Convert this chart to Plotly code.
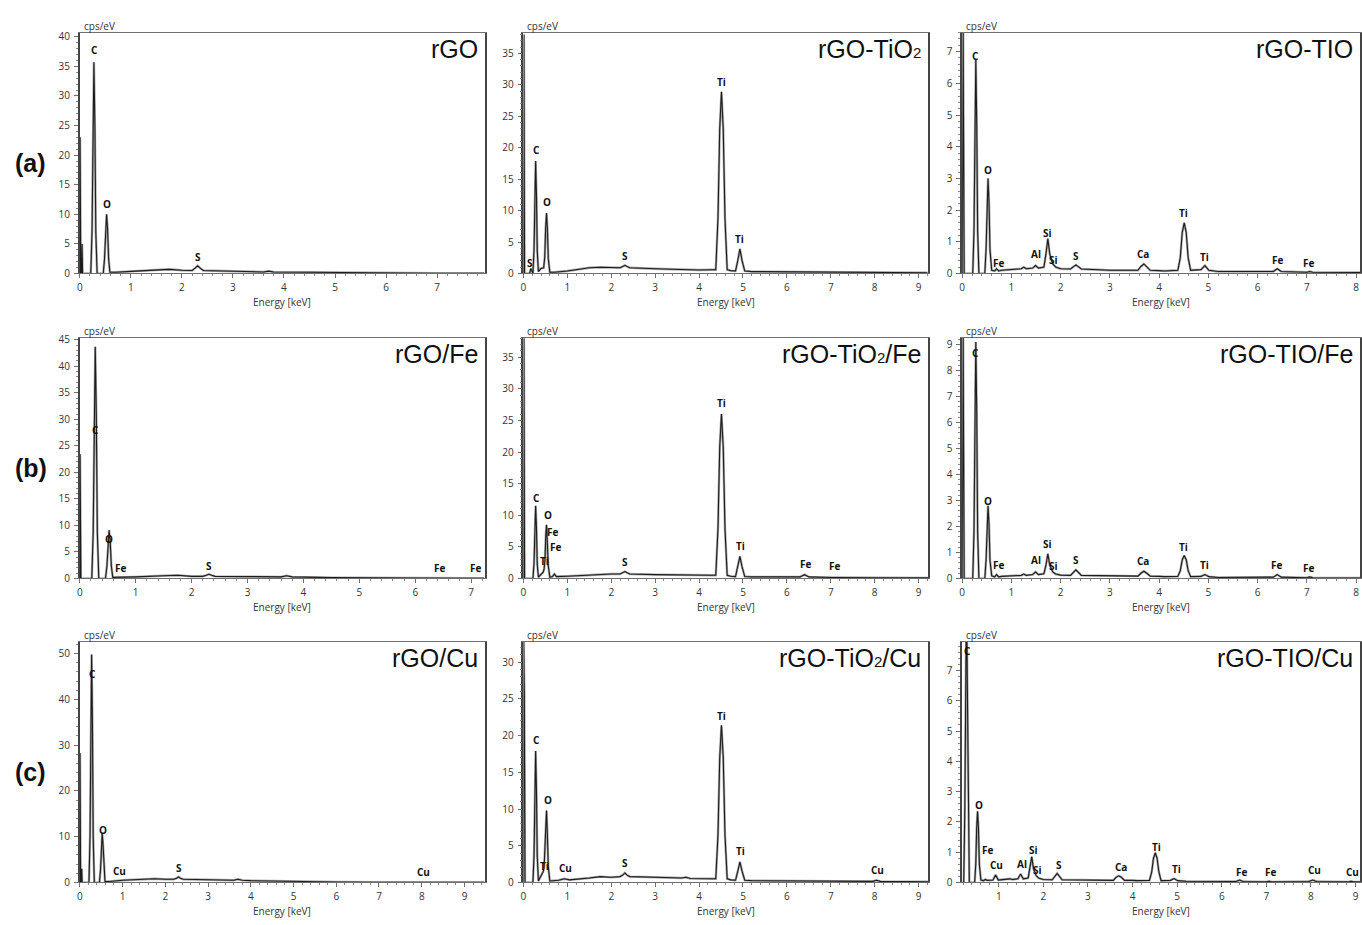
import plotly.graph_objects as go

# ---------------- data ----------------
# Row (a)
E_a1 = [0, 0.005, 0.02, 0.035, 0.045, 0.055, 0.08, 0.2, 0.215, 0.24, 0.258, 0.277, 0.296, 0.314, 0.34,
        0.46, 0.485, 0.505, 0.525, 0.545, 0.565, 0.59, 0.7, 1.0, 1.5, 1.75, 2.0, 2.2, 2.26, 2.31, 2.36, 2.42,
        2.6, 3.0, 3.6, 3.7, 3.8, 4.5, 5.0, 6.0, 7.0, 7.93]
I_a1 = [0, 23, 0, 0, 5, 0, 0, 0, 0, 7, 25, 35.7, 25, 7, 0,
        0, 2.5, 7.5, 10, 7.5, 2.5, 0.2, 0.2, 0.35, 0.55, 0.7, 0.55, 0.5, 0.9, 1.3, 0.9, 0.5,
        0.45, 0.35, 0.25, 0.4, 0.25, 0.2, 0.15, 0.1, 0.05, 0.05]

E_a2 = [0, 0.01, 0.025, 0.05, 0.14, 0.17, 0.2, 0.215, 0.24, 0.258, 0.277, 0.296, 0.314, 0.34, 0.4,
        0.46, 0.485, 0.505, 0.525, 0.545, 0.565, 0.6, 0.7, 1.0, 1.25, 1.5, 1.75, 2.0, 2.2, 2.26, 2.31, 2.36, 2.42,
        3.0, 3.5, 3.7, 4.0, 4.3, 4.38, 4.43, 4.47, 4.51, 4.55, 4.59, 4.64, 4.72, 4.83, 4.88, 4.93, 4.98, 5.04,
        5.2, 6.0, 7.0, 8.0, 9.2]
I_a2 = [0, 38, 0, 0, 0, 0.8, 0, 0, 3.6, 12.5, 17.9, 12.5, 3.6, 0.3, 0.8,
        0.9, 2.6, 7.2, 9.6, 7.2, 2.4, 0.2, 0.2, 0.4, 0.7, 0.9, 1.0, 0.9, 0.9, 1.1, 1.3, 1.1, 0.9,
        0.75, 0.65, 0.6, 0.55, 0.6, 0.6, 8.7, 23, 28.9, 23, 8.7, 0.6, 0.45, 0.4, 2.0, 3.9, 2.0, 0.4,
        0.3, 0.25, 0.2, 0.15, 0.12]

E_a3 = [0, 0.02, 0.04, 0.06, 0.2, 0.215, 0.24, 0.258, 0.277, 0.296, 0.314, 0.34,
        0.46, 0.485, 0.505, 0.525, 0.545, 0.565, 0.6, 0.66, 0.7, 0.74, 0.8, 1.0, 1.2, 1.25, 1.3,
        1.43, 1.49, 1.55, 1.66, 1.7, 1.74, 1.78, 1.84, 1.9, 2.0, 2.2, 2.31, 2.42,
        3.0, 3.57, 3.63, 3.69, 3.75, 3.82, 4.0, 4.1, 4.38, 4.43, 4.47, 4.51, 4.55, 4.59, 4.64,
        4.85, 4.93, 5.01, 5.2, 6.0, 6.32, 6.4, 6.48, 7.0, 7.06, 7.12, 8.08]
I_a3 = [0, 7.6, 0, 0, 0, 0, 1.35, 4.7, 6.75, 4.7, 1.35, 0,
        0, 0.75, 2.25, 3.0, 2.25, 0.75, 0.1, 0.08, 0.15, 0.08, 0.1, 0.12, 0.15, 0.2, 0.15,
        0.17, 0.25, 0.17, 0.2, 0.6, 1.1, 0.6, 0.3, 0.2, 0.15, 0.14, 0.27, 0.14,
        0.1, 0.1, 0.22, 0.3, 0.22, 0.1, 0.09, 0.08, 0.1, 0.5, 1.3, 1.6, 1.3, 0.5, 0.1,
        0.12, 0.25, 0.1, 0.06, 0.05, 0.06, 0.15, 0.06, 0.04, 0.06, 0.04, 0.03]

# Row (b)
E_b1 = [0, 0.005, 0.02, 0.2, 0.215, 0.24, 0.258, 0.277, 0.296, 0.314, 0.34,
        0.46, 0.485, 0.505, 0.525, 0.545, 0.565, 0.59, 0.7, 1.0, 1.5, 1.75, 2.0,
        2.2, 2.26, 2.31, 2.36, 2.42, 3.0, 3.6, 3.7, 3.8, 4.5, 5.0, 6.0, 7.24]
I_b1 = [0, 23.4, 0, 0, 0, 8.7, 30.6, 43.7, 30.6, 8.7, 0,
        0, 2.3, 6.8, 9.1, 6.8, 2.3, 0.2, 0.2, 0.3, 0.5, 0.6, 0.4,
        0.4, 0.6, 0.8, 0.6, 0.4, 0.35, 0.3, 0.5, 0.3, 0.15, 0.1, 0.08, 0.05]

E_b2 = [0, 0.01, 0.025, 0.2, 0.215, 0.24, 0.258, 0.277, 0.296, 0.314, 0.34,
        0.4, 0.45, 0.47, 0.49, 0.51, 0.525, 0.545, 0.565, 0.6, 0.66, 0.705, 0.75, 1.0, 1.5, 2.0,
        2.2, 2.26, 2.31, 2.36, 2.42, 3.0, 3.6, 3.7, 3.8, 4.3,
        4.38, 4.43, 4.47, 4.51, 4.55, 4.59, 4.64, 4.72, 4.83, 4.88, 4.93, 4.98, 5.04,
        5.2, 6.0, 6.3, 6.4, 6.5, 7.0, 7.06, 7.12, 8.0, 9.22]
I_b2 = [0, 38, 0, 0, 0, 2.3, 8, 11.5, 8, 2.3, 0.2,
        0.6, 1.0, 1.5, 3, 7, 8.5, 5.5, 2, 0.2, 0.3, 0.7, 0.3, 0.35, 0.55, 0.7,
        0.7, 0.9, 1.1, 0.9, 0.7, 0.6, 0.5, 0.6, 0.5, 0.5,
        0.5, 7.8, 20.8, 26, 20.8, 7.8, 0.5, 0.35, 0.3, 1.8, 3.5, 1.8, 0.3,
        0.25, 0.2, 0.25, 0.6, 0.25, 0.15, 0.2, 0.15, 0.12, 0.1]

E_b3 = list(E_a3)
I_b3 = [0, 9.27, 0, 0, 0, 0, 1.8, 6.4, 9.1, 6.4, 1.8, 0,
        0, 0.7, 2.1, 2.8, 2.1, 0.7, 0.1, 0.06, 0.15, 0.06, 0.08, 0.1, 0.12, 0.17, 0.12,
        0.15, 0.25, 0.15, 0.18, 0.5, 0.95, 0.5, 0.25, 0.17, 0.13, 0.12, 0.33, 0.12,
        0.1, 0.09, 0.2, 0.28, 0.2, 0.09, 0.08, 0.07, 0.08, 0.3, 0.72, 0.88, 0.72, 0.3, 0.07,
        0.08, 0.15, 0.07, 0.04, 0.04, 0.05, 0.15, 0.05, 0.03, 0.06, 0.03, 0.02]

# Row (c)
E_c1 = [0, 0.005, 0.02, 0.035, 0.045, 0.055, 0.2, 0.215, 0.24, 0.258, 0.277, 0.296, 0.314, 0.34,
        0.46, 0.485, 0.505, 0.525, 0.545, 0.565, 0.59, 0.7, 0.93, 1.0, 1.5, 1.75, 2.0,
        2.2, 2.26, 2.31, 2.36, 2.42, 3.0, 3.6, 3.7, 3.8, 4.0, 5.0, 6.0, 7.0, 7.98, 8.04, 8.1, 9.47]
I_c1 = [0, 28.3, 0, 0, 3, 0, 0, 0, 10, 35, 49.8, 35, 10, 0,
        0, 2.7, 8.1, 10.8, 8.1, 2.7, 0.2, 0.2, 0.5, 0.5, 0.7, 0.8, 0.7,
        0.7, 0.9, 1.2, 0.9, 0.7, 0.6, 0.5, 0.7, 0.5, 0.4, 0.2, 0.1, 0.06, 0.05, 0.2, 0.05, 0.03]

E_c2 = [0, 0.005, 0.012, 0.02, 0.035, 0.2, 0.215, 0.24, 0.258, 0.277, 0.296, 0.314, 0.34,
        0.4, 0.45, 0.47, 0.49, 0.51, 0.525, 0.545, 0.565, 0.6, 0.8, 0.93, 1.05, 1.5, 1.75, 2.0,
        2.2, 2.26, 2.31, 2.36, 2.42, 3.0, 3.6, 3.7, 3.8, 4.3,
        4.38, 4.43, 4.47, 4.51, 4.55, 4.59, 4.64, 4.72, 4.83, 4.88, 4.93, 4.98, 5.04,
        5.2, 6.0, 7.0, 7.95, 8.04, 8.13, 9.22]
I_c2 = [0, 32.8, 0, 25.5, 0, 0, 0, 3.6, 12.5, 17.9, 12.5, 3.6, 0.2,
        0.8, 1.5, 2.0, 5, 8.5, 9.8, 6.5, 2.2, 0.2, 0.3, 0.5, 0.35, 0.6, 0.8, 0.7,
        0.8, 1.0, 1.3, 1.0, 0.8, 0.7, 0.6, 0.7, 0.55, 0.5,
        0.5, 6.4, 17, 21.4, 17, 6.4, 0.5, 0.35, 0.3, 1.5, 2.8, 1.5, 0.3,
        0.25, 0.2, 0.15, 0.15, 0.3, 0.15, 0.1]

E_c3 = [0.18, 0.215, 0.24, 0.258, 0.277, 0.296, 0.314, 0.34,
        0.46, 0.485, 0.505, 0.525, 0.545, 0.565, 0.6, 0.66, 0.7, 0.74, 0.87, 0.93, 0.99,
        1.2, 1.25, 1.3, 1.43, 1.49, 1.55, 1.66, 1.7, 1.74, 1.78, 1.84, 1.9, 2.0, 2.2, 2.31, 2.42,
        3.0, 3.57, 3.63, 3.69, 3.75, 3.82, 4.0, 4.1, 4.38, 4.43, 4.47, 4.51, 4.55, 4.59, 4.64,
        4.85, 4.93, 5.01, 5.2, 6.0, 6.32, 6.4, 6.48, 7.0, 7.06, 7.12, 7.95, 8.04, 8.13,
        8.85, 8.9, 8.95, 9.1]
I_c3 = [0, 0, 2.5, 6.5, 9.5, 6.5, 2.5, 0,
        0, 0.6, 1.8, 2.35, 1.8, 0.6, 0.08, 0.06, 0.1, 0.07, 0.08, 0.25, 0.08,
        0.1, 0.12, 0.1, 0.12, 0.28, 0.12, 0.15, 0.45, 0.85, 0.45, 0.22, 0.14, 0.1, 0.09, 0.3, 0.09,
        0.07, 0.07, 0.17, 0.22, 0.17, 0.07, 0.07, 0.06, 0.07, 0.35, 0.8, 0.98, 0.8, 0.35, 0.06,
        0.07, 0.13, 0.06, 0.04, 0.03, 0.03, 0.08, 0.03, 0.02, 0.04, 0.02, 0.03, 0.08, 0.03,
        0.02, 0.04, 0.02, 0.02]

# peak labels: (element, energy, cps)
labels_a1 = [("C", 0.29, 37.7), ("O", 0.53, 11.8), ("S", 2.32, 2.8)]
labels_a2 = [("S", 0.16, 1.6), ("C", 0.29, 19.6), ("O", 0.54, 11.3), ("S", 2.31, 2.7),
             ("Ti", 4.52, 30.5), ("Ti", 4.93, 5.5)]
labels_a3 = [("C", 0.28, 6.87), ("O", 0.53, 3.26), ("Fe", 0.74, 0.34), ("Al", 1.5, 0.6),
             ("Si", 1.74, 1.29), ("Si", 1.86, 0.41), ("S", 2.31, 0.56), ("Ca", 3.68, 0.63),
             ("Ti", 4.49, 1.91), ("Ti", 4.92, 0.53), ("Fe", 6.4, 0.44), ("Fe", 7.04, 0.34)]
labels_b1 = [("C", 0.29, 27.9), ("O", 0.53, 7.4), ("Fe", 0.73, 2.0), ("S", 2.32, 2.4),
             ("Fe", 6.43, 2.0), ("Fe", 7.08, 2.0)]
labels_b2 = [("C", 0.3, 12.8), ("O", 0.55, 10.0), ("Fe", 0.66, 7.3), ("Fe", 0.73, 5.0),
             ("Ti", 0.48, 2.8), ("S", 2.32, 2.66), ("Ti", 4.52, 27.7), ("Ti", 4.95, 5.2),
             ("Fe", 6.43, 2.3), ("Fe", 7.09, 1.9)]
labels_b3 = [("C", 0.27, 8.67), ("O", 0.53, 2.97), ("Fe", 0.74, 0.53), ("Al", 1.5, 0.72),
             ("Si", 1.74, 1.33), ("Si", 1.86, 0.49), ("S", 2.31, 0.72), ("Ca", 3.68, 0.68),
             ("Ti", 4.49, 1.22), ("Ti", 4.92, 0.53), ("Fe", 6.38, 0.53), ("Fe", 7.04, 0.42)]
labels_c1 = [("C", 0.3, 45.6), ("O", 0.54, 11.4), ("Cu", 0.93, 2.4), ("S", 2.33, 3.2),
             ("Cu", 8.04, 2.2)]
labels_c2 = [("C", 0.3, 19.4), ("O", 0.55, 11.2), ("Ti", 0.48, 2.3), ("Cu", 0.95, 2.0),
             ("S", 2.32, 2.7), ("Ti", 4.52, 22.7), ("Ti", 4.95, 4.3), ("Cu", 8.07, 1.75)]
labels_c3 = [("C", 0.29, 7.65), ("O", 0.56, 2.57), ("Fe", 0.74, 1.07), ("Cu", 0.94, 0.59),
             ("Al", 1.52, 0.62), ("Si", 1.77, 1.07), ("Si", 1.88, 0.42), ("S", 2.35, 0.59),
             ("Ca", 3.73, 0.52), ("Ti", 4.54, 1.17), ("Ti", 4.98, 0.46), ("Fe", 6.44, 0.36),
             ("Fe", 7.1, 0.36), ("Cu", 8.07, 0.42), ("Cu", 8.94, 0.33)]

SUB2 = "<span style='font-size:15px'>2</span>"
sample_names = ["rGO", "rGO-TiO" + SUB2, "rGO-TIO",
                "rGO/Fe", "rGO-TiO" + SUB2 + "/Fe", "rGO-TIO/Fe",
                "rGO/Cu", "rGO-TiO" + SUB2 + "/Cu", "rGO-TIO/Cu"]
row_labels = ["(a)", "(b)", "(c)"]

spectra = [(E_a1, I_a1), (E_a2, I_a2), (E_a3, I_a3),
           (E_b1, I_b1), (E_b2, I_b2), (E_b3, I_b3),
           (E_c1, I_c1), (E_c2, I_c2), (E_c3, I_c3)]
peak_labels = [labels_a1, labels_a2, labels_a3, labels_b1, labels_b2, labels_b3,
               labels_c1, labels_c2, labels_c3]
for e, i in spectra:
    assert len(e) == len(i), (len(e), len(i))

# ---------------- layout (pixel geometry) ----------------
W, H = 1362, 925
col_px = [(77, 483), (522, 928), (962, 1361)]
row_px = [(28, 272), (337, 581), (645, 889)]
x_ranges = [[0, 7.93], [0, 9.22], [0, 8.08],
            [0, 7.24], [0, 9.22], [0, 8.08],
            [0, 9.47], [0, 9.22], [0.18, 9.1]]
y_ranges = [[0, 40.7], [0, 38.3], [0, 7.6],
            [0, 45.4], [0, 38.1], [0, 9.27],
            [0, 52.6], [0, 32.8], [0, 7.95]]
y_dticks = [5, 5, 1, 5, 5, 1, 10, 5, 1]
y_minor = [1, 1, 0.2, 1, 1, 0.2, 2, 1, 0.2]

TICKFONT = dict(family="Open Sans", size=10, color="#333333")
LINE_C = "#6f6f6f"

fig = go.Figure()
layout = dict(width=W, height=H, margin=dict(l=0, r=0, t=0, b=0), autosize=False,
              paper_bgcolor="white", plot_bgcolor="white", showlegend=False)
annotations = []

for k in range(9):
    r, c = divmod(k, 3)
    s = "" if k == 0 else str(k + 1)
    x0, x1 = col_px[c]
    yt, yb = row_px[r]
    layout["xaxis" + s] = dict(
        domain=[x0 / W, x1 / W], range=x_ranges[k], anchor="y" + s,
        tick0=0, dtick=1, ticks="outside", ticklen=4, tickcolor=LINE_C, tickwidth=1,
        minor=dict(dtick=0.2, ticks="outside", ticklen=2, tickcolor="#8a8a8a"),
        showline=True, linecolor=LINE_C, linewidth=1, mirror=True,
        showgrid=False, zeroline=False, tickfont=TICKFONT, ticklabelstandoff=1)
    layout["yaxis" + s] = dict(
        domain=[1 - yb / H, 1 - yt / H], range=y_ranges[k], anchor="x" + s,
        tick0=0, dtick=y_dticks[k], ticks="outside", ticklen=4, tickcolor=LINE_C, tickwidth=1,
        minor=dict(dtick=y_minor[k], ticks="outside", ticklen=2, tickcolor="#8a8a8a"),
        showline=True, linecolor="#444444", linewidth=1.5, mirror=True,
        showgrid=False, zeroline=False, tickfont=TICKFONT, ticklabelstandoff=2)

    e, i = spectra[k]
    fig.add_trace(go.Scatter(x=e, y=i, mode="lines", xaxis="x" + s, yaxis="y" + s,
                             line=dict(color="#a8a8a8", width=2.4), hoverinfo="skip"))
    fig.add_trace(go.Scatter(x=e, y=i, mode="lines", xaxis="x" + s, yaxis="y" + s,
                             line=dict(color="#1c1c1c", width=1.1), hoverinfo="skip"))

    for (t, lx, ly) in peak_labels[k]:
        annotations.append(dict(text="<b>%s</b>" % t, x=lx, y=ly, xref="x" + s, yref="y" + s,
                                showarrow=False, xanchor="center", yanchor="middle",
                                font=dict(family="Open Sans", size=10, color="#111111")))

    # cps/eV
    annotations.append(dict(text="cps/eV", x=(x0 + 2) / W, y=1 - (yt - 7) / H, xref="paper",
                            yref="paper", showarrow=False, xanchor="left", yanchor="middle",
                            font=dict(family="Open Sans", size=10, color="#333333")))
    # Energy [keV]
    annotations.append(dict(text="Energy [keV]", x=(x0 + x1) / 2 / W, y=1 - (yb + 29) / H,
                            xref="paper", yref="paper", showarrow=False, xanchor="center",
                            yanchor="middle",
                            font=dict(family="Open Sans", size=10, color="#333333")))
    # sample name
    annotations.append(dict(text=sample_names[k], x=(x1 - 5) / W, y=1 - (yt + 17) / H,
                            xref="paper", yref="paper", showarrow=False, xanchor="right",
                            yanchor="middle",
                            font=dict(family="Liberation Sans, Arial", size=25, color="#111111")))

for r in range(3):
    yt, yb = row_px[r]
    annotations.append(dict(text="<b>%s</b>" % row_labels[r], x=28 / W,
                            y=1 - ((yt + yb) / 2 + 10) / H, xref="paper", yref="paper",
                            showarrow=False, xanchor="center", yanchor="middle",
                            font=dict(family="Liberation Sans, Arial", size=25, color="#111111")))

layout["annotations"] = annotations
fig.update_layout(**layout)
fig.write_html("out.html")
